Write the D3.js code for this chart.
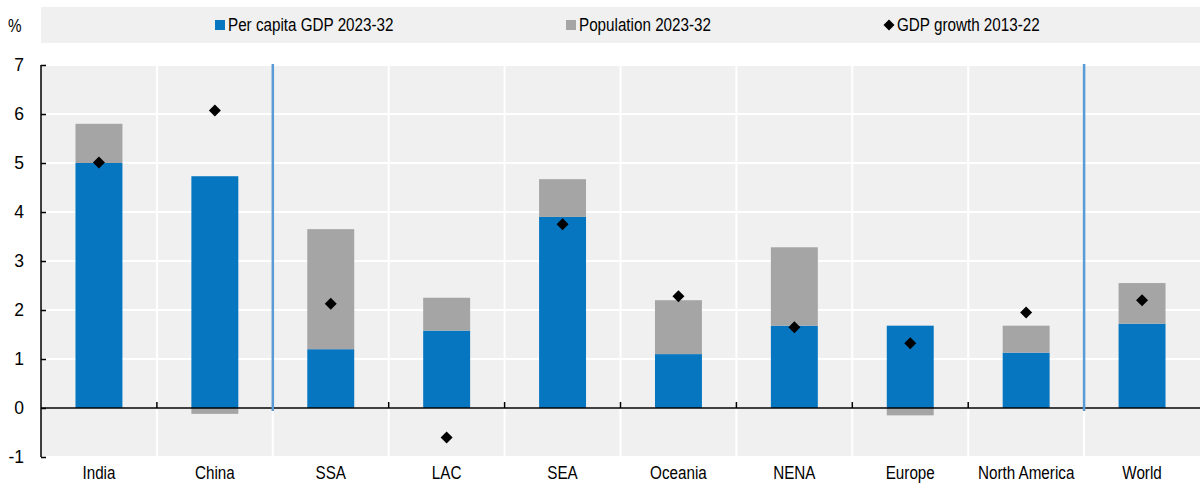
<!DOCTYPE html>
<html><head><meta charset="utf-8">
<script src="https://cdn.jsdelivr.net/npm/d3@7"></script>
<style>
body{margin:0;background:#fff;}
text{font-family:"Liberation Sans",Arial,sans-serif;fill:#000;}
</style></head>
<body><svg id="c" width="1200" height="484"></svg>
<script>
const categories = ["India","China","SSA","LAC","SEA","Oceania","NENA","Europe","North America","World"];
const perCapita = [5.0,4.73,1.2,1.58,3.9,1.1,1.68,1.68,1.13,1.72];
const population = [0.8,-0.12,2.45,0.67,0.77,1.1,1.6,-0.15,0.55,0.83];
const gdpGrowth = [5.01,6.07,2.13,-0.6,3.75,2.28,1.65,1.32,1.95,2.2];
const yTicks = [-1,0,1,2,3,4,5,6,7];
const separatorsAfter = ["China","North America"];
const legendLabels = ["Per capita GDP 2023-32","Population 2023-32","GDP growth 2013-22"];

const FONT="Liberation Sans, Arial, sans-serif", FS=17.5, SX=0.87;
const blue="#0576bf", gray="#a5a5a5", bg="#f0f0f0", sepColor="#5b9bd5";
const svg=d3.select("#c");
const L=41,R=1200,T=65,B=457;
const x=d3.scaleBand().domain(categories).range([L,R]).paddingInner(0).paddingOuter(0);
const y=d3.scaleLinear().domain([-1,7]).range([B,T]);

function ntext(parent,tx,ty,str,anchor){
  return parent.append("text").attr("transform",`translate(${tx},${ty}) scale(${SX},1)`)
    .attr("text-anchor",anchor||"start").attr("font-size",FS).text(str);
}

// legend
svg.append("rect").attr("x",41).attr("y",7).attr("width",1159).attr("height",36).attr("fill",bg);
const lg=[{x:215,t:legendLabels[0],k:"sq",c:blue},{x:566,t:legendLabels[1],k:"sq",c:gray},{x:884,t:legendLabels[2],k:"dm",c:"#000"}];
lg.forEach(d=>{
  if(d.k==="sq") svg.append("rect").attr("x",d.x).attr("y",20).attr("width",10).attr("height",10).attr("fill",d.c);
  else svg.append("path").attr("d",`M${d.x+5},19.5 L${d.x+10.5},25 L${d.x+5},30.5 L${d.x-0.5},25Z`).attr("fill",d.c);
  ntext(svg,d.x+13,31,d.t);
});
ntext(svg,8,32,"%");

// plot bg
svg.append("rect").attr("x",L).attr("y",T).attr("width",R-L).attr("height",B-T).attr("fill",bg);
svg.selectAll(".hg").data(yTicks).enter().append("line")
  .attr("x1",L).attr("x2",R).attr("y1",d=>y(d)).attr("y2",d=>y(d)).attr("stroke","#fff").attr("stroke-width",2);
svg.selectAll(".vg").data(categories.slice(1)).enter().append("line")
  .attr("x1",d=>x(d)).attr("x2",d=>x(d)).attr("y1",T).attr("y2",B).attr("stroke","#fff").attr("stroke-width",2);

const bw=x.bandwidth()*0.405;
const cx=d=>x(d)+x.bandwidth()/2;
categories.forEach((c,i)=>{
  const pc=perCapita[i], p=population[i];
  svg.append("rect").attr("x",cx(c)-bw/2).attr("width",bw)
    .attr("y",y(Math.max(0,pc))).attr("height",Math.abs(y(pc)-y(0))).attr("fill",blue);
  let a,b;
  if(p>=0){a=pc;b=pc+p;} else {a=0;b=p;}
  svg.append("rect").attr("x",cx(c)-bw/2).attr("width",bw)
    .attr("y",y(Math.max(a,b))).attr("height",Math.abs(y(a)-y(b))).attr("fill",gray);
});

svg.append("line").attr("x1",L).attr("x2",R).attr("y1",y(0)).attr("y2",y(0)).attr("stroke","#000").attr("stroke-width",1.5);
svg.selectAll(".xt").data(categories.slice(1)).enter().append("line")
  .attr("x1",d=>x(d)).attr("x2",d=>x(d)).attr("y1",y(0)).attr("y2",y(0)-6).attr("stroke","#000").attr("stroke-width",1.5);

separatorsAfter.forEach(c=>{
  const i=categories.indexOf(c);
  const xx=x(categories[i+1]);
  svg.append("line").attr("x1",xx).attr("x2",xx).attr("y1",T-1).attr("y2",y(0)+3).attr("stroke",sepColor).attr("stroke-width",2.5);
});

const ya=d3.axisLeft(y).tickValues(yTicks).tickSize(-5).tickPadding(17).tickFormat(d=>String(d));
const g=svg.append("g").attr("transform",`translate(${L},0)`).call(ya);
g.select(".domain").remove();
g.selectAll(".tick line").attr("stroke","#000").attr("stroke-width",1.5);
g.selectAll(".tick text").attr("font-size",FS).attr("font-family",FONT).attr("fill","#000");
svg.append("line").attr("x1",L).attr("x2",L).attr("y1",T).attr("y2",B).attr("stroke","#000").attr("stroke-width",1.5);

svg.selectAll(".dm").data(categories).enter().append("path")
  .attr("d",(c,i)=>{const px=cx(c),py=y(gdpGrowth[i]),r=6;return `M${px},${py-r} L${px+r},${py} L${px},${py+r} L${px-r},${py}Z`;})
  .attr("fill","#000");

const xa=d3.axisBottom(x).tickSize(0).tickPadding(9.5);
const gx=svg.append("g").attr("transform",`translate(0,${B})`).call(xa);
gx.select(".domain").remove();
gx.selectAll(".tick text").attr("font-size",FS).attr("font-family",FONT).attr("fill","#000")
  .attr("transform",`scale(${SX},1)`);
</script></body></html>
